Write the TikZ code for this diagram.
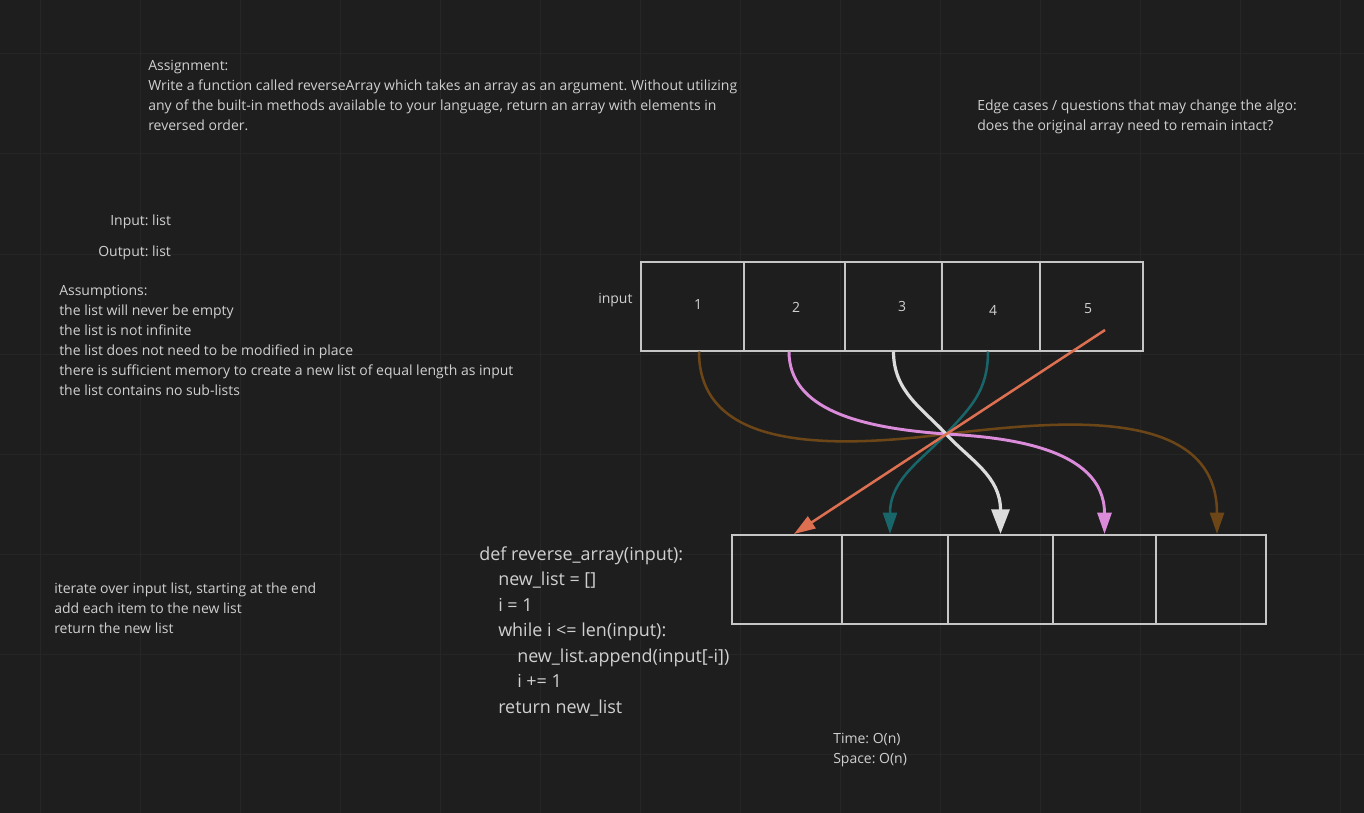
\documentclass[tikz,border=0pt]{standalone}
\usepackage{fontspec}
\setmainfont{Open Sans}
\frenchspacing
\usetikzlibrary{arrows.meta,calc}
\definecolor{bg}{RGB}{30,30,30}
\definecolor{gridc}{RGB}{38,38,38}
\definecolor{fg}{RGB}{208,208,208}
\definecolor{boxc}{RGB}{198,198,198}
\definecolor{arrwhite}{RGB}{220,220,220}
\definecolor{arrpink}{RGB}{218,140,218}
\definecolor{arrteal}{RGB}{24,101,106}
\definecolor{arrorange}{RGB}{222,112,82}
\definecolor{arrbrown}{RGB}{108,70,22}
\tikzset{
  txt/.style={anchor=base west,inner sep=0pt,align=left,text=fg,
    font=\fontsize{10.5}{15}\selectfont},
  codetxt/.style={txt,font=\fontsize{13.45}{19.1}\selectfont},
  cell/.style={draw=boxc,line width=1.5pt,rectangle,inner sep=0pt},
  num/.style={inner sep=0pt,text=fg,font=\fontsize{10.5}{12}\selectfont},
  swap/.style={line width=1.9pt,-{Triangle[length=16pt,width=10.5pt]}}
}
\begin{document}
\begin{tikzpicture}[x=0.75pt,y=-0.75pt]
  \fill[bg](0,0) rectangle (1364,813);
  \useasboundingbox (0,0) rectangle (1364,813);
  \foreach \gx in {40,140,...,1340}
    \draw[gridc,line width=0.75pt](\gx,0)--(\gx,813);
  \foreach \gy in {54,154,...,754}
    \draw[gridc,line width=0.75pt](0,\gy)--(1364,\gy);

  % notes (placed at the baseline of their last line)
  \node[txt] (assign) at (148,131) {Assignment:\\
    Write a function called reverseArray which takes an array as an argument. Without utilizing\\
    any of the built-in methods available to your language, return an array with elements in\\
    reversed order.};
  \node[txt] (edge) at (977,131) {Edge cases / questions that may change the algo:\\
    does the original array need to remain intact?};
  \node[txt] (inp) at (110,225) {Input: list};
  \node[txt] (outp) at (98,256.5) {Output: list};
  \node[txt] (assume) at (59,395) {Assumptions:\\
    the list will never be empty\\
    the list is not infinite\\
    the list does not need to be modified in place\\
    there is sufficient memory to create a new list of equal length as input\\
    the list contains no sub-lists};
  \node[txt] (steps) at (54,633.3) {iterate over input list, starting at the end\\
    add each item to the new list\\
    return the new list};
  \node[codetxt] (algo) at (479,713) {def reverse\_array(input):\\
    \hspace*{14.25pt}new\_list = []\\
    \hspace*{14.25pt}i = 1\\
    \hspace*{14.25pt}while i <= len(input):\\
    \hspace*{28.5pt}new\_list.append(input[-i])\\
    \hspace*{28.5pt}i += 1\\
    \hspace*{14.25pt}return new\_list};
  \node[txt] (cost) at (833,763) {Time: O(n)\\Space: O(n)};

  % arrays
  \node[txt] (inlabel) at (598,303.3) {input};
  \foreach \nm/\cx/\w in {in1/692.5/103,in2/794.5/101,in3/893.5/97,in4/991/98,in5/1091.5/103}
    \node[cell,minimum width=\w*0.75pt,minimum height=66.75pt] (\nm) at (\cx,306) {};
  \foreach \nm/\cx/\w in {out1/787/110,out2/895/106,out3/1000.5/105,out4/1104.5/103,out5/1211/110}
    \node[cell,minimum width=\w*0.75pt,minimum height=66.4pt] (\nm) at (\cx,579.25) {};
  \node[num] (n1) at (698,305) {1};
  \node[num] (n2) at (796,307) {2};
  \node[num] (n3) at (902,306) {3};
  \node[num] (n4) at (993,310) {4};
  \node[num] (n5) at (1088,309) {5};

  % swaps
  \coordinate (X) at (946,434);
  \coordinate (last) at ($(in5.center)+(13.5,24)$);
  \draw[swap,arrbrown] ($(in1.south)+(6.5,0)$) .. controls +(0,90) and +(-140,18) .. (X)
    .. controls +(100,-11) and +(0,-133) .. ($(out5.north)+(6,0)$);
  \draw[swap,arrpink,line width=2.2pt] ($(in2.south)+(-5.5,0)$) .. controls +(0,58) and +(-86,-6) .. (X)
    .. controls +(54,3) and +(0,-88) .. (out4.north);
  \draw[swap,arrteal] ($(in4.south)+(-3,0)$) .. controls +(0,40) and +(24,-26) .. (X)
    .. controls +(-24,26) and +(0,-55) .. ($(out2.north)+(-5,0)$);
  \draw[swap,arrwhite,line width=2.4pt,-{Triangle[length=18.5pt,width=13.5pt]}]
    (in3.south) .. controls +(0,40) and +(-24,-26) .. (X)
    .. controls +(24,26) and +(0,-58) .. (out3.north);
  \draw[swap,arrorange] (last) -- ($(out1.north)+(7,0)$);
\end{tikzpicture}
\end{document}
